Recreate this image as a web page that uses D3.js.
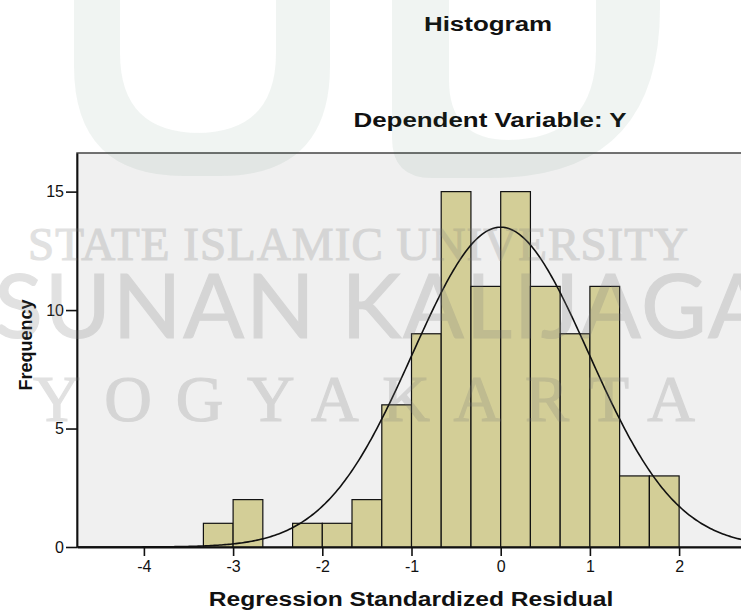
<!DOCTYPE html>
<html>
<head>
<meta charset="utf-8">
<script src="https://cdnjs.cloudflare.com/ajax/libs/d3/7.8.5/d3.min.js"></script>
<style>
  body { margin: 0; background: #fff; }
  svg { display: block; }
</style>
</head>
<body>
<div id="vis"></div>
<script>
// Chart data
const BIN_LEFT = [-3.333, -3, -2.667, -2.333, -2, -1.667, -1.333, -1, -0.667, -0.333, 0, 0.333, 0.667, 1, 1.333, 1.667];
const COUNTS = [1, 2, 0, 1, 1, 2, 6, 9, 15, 11, 15, 11, 9, 11, 3, 3];
const BIN_WIDTH = 0.3333;
const X_TICKS = [-4, -3, -2, -1, 0, 1, 2];
const Y_TICKS = [0, 5, 10, 15];
// normal curve stats (SPSS draws N * binwidth * pdf)
const MEAN = 0;
const STD_DEV = 0.985;
const N = 100;

const WIDTH = 741, HEIGHT = 612;
const PLOT = {left: 77, top: 153, right: 746, bottom: 547};
const FONT = "'Liberation Sans', Arial, sans-serif";

const svg = d3.select("#vis").append("svg")
  .attr("width", WIDTH)
  .attr("height", HEIGHT);

const X_SCALE = d3.scaleLinear().domain([-4.75, 2.75]).range([PLOT.left, PLOT.right]);
const Y_SCALE = d3.scaleLinear().domain([0, 16.63]).range([PLOT.bottom, PLOT.top]);

// plot background + frame
svg.append("rect")
  .attr("x", PLOT.left)
  .attr("y", PLOT.top)
  .attr("width", PLOT.right - PLOT.left)
  .attr("height", PLOT.bottom - PLOT.top)
  .attr("fill", "#f0f0f0")
  .attr("stroke", "#444")
  .attr("stroke-width", 1.5);

// bars
const bins = BIN_LEFT.map((x0, i) => ({x0: x0, x1: x0 + BIN_WIDTH, n: COUNTS[i]}))
  .filter(d => d.n > 0);

svg.selectAll(".bar")
  .data(bins)
  .enter()
  .append("rect")
  .attr("class", "bar")
  .attr("x", d => X_SCALE(d.x0))
  .attr("y", d => Y_SCALE(d.n))
  .attr("width", d => X_SCALE(d.x1) - X_SCALE(d.x0))
  .attr("height", d => Y_SCALE(0) - Y_SCALE(d.n))
  .attr("fill", "#d3ce97")
  .attr("stroke", "#111")
  .attr("stroke-width", 1.2);

// normal curve
const pdf = x => Math.exp(-0.5 * Math.pow((x - MEAN) / STD_DEV, 2)) / (STD_DEV * Math.sqrt(2 * Math.PI));
const curvePts = d3.range(-4.75, 2.76, 0.02).map(x => [x, N * BIN_WIDTH * pdf(x)]);

svg.append("defs").append("clipPath").attr("id", "clip")
  .append("rect")
  .attr("x", PLOT.left).attr("y", PLOT.top)
  .attr("width", PLOT.right - PLOT.left).attr("height", PLOT.bottom - PLOT.top);

svg.append("path")
  .datum(curvePts)
  .attr("clip-path", "url(#clip)")
  .attr("fill", "none")
  .attr("stroke", "#111")
  .attr("stroke-width", 1.6)
  .attr("d", d3.line().x(d => X_SCALE(d[0])).y(d => Y_SCALE(d[1])));

// axes (plain hyphen minus, like SPSS)
const xAxis = svg.append("g")
  .attr("transform", "translate(0," + PLOT.bottom + ")")
  .call(d3.axisBottom(X_SCALE).tickValues(X_TICKS).tickFormat(d => String(d))
    .tickSize(9).tickSizeOuter(0).tickPadding(5));

const yAxis = svg.append("g")
  .attr("transform", "translate(" + PLOT.left + ",0)")
  .call(d3.axisLeft(Y_SCALE).tickValues(Y_TICKS).tickFormat(d => String(d))
    .tickSize(11).tickSizeOuter(0).tickPadding(2));

[xAxis, yAxis].forEach(a => {
  a.selectAll("path").attr("stroke", "#111").attr("stroke-width", 1.8);
  a.selectAll("line").attr("stroke", "#111").attr("stroke-width", 1.6);
  a.selectAll("text")
    .attr("font-family", FONT)
    .attr("font-size", 16)
    .attr("fill", "#111");
});

// titles
svg.append("text")
  .attr("transform", "translate(488,31) scale(1.235,1)")
  .attr("text-anchor", "middle")
  .attr("font-family", FONT)
  .attr("font-size", 21)
  .attr("font-weight", "bold")
  .attr("fill", "#111")
  .text("Histogram");

svg.append("text")
  .attr("transform", "translate(490,127) scale(1.235,1)")
  .attr("text-anchor", "middle")
  .attr("font-family", FONT)
  .attr("font-size", 21)
  .attr("font-weight", "bold")
  .attr("fill", "#111")
  .text("Dependent Variable: Y");

svg.append("text")
  .attr("transform", "translate(411,606) scale(1.23,1)")
  .attr("text-anchor", "middle")
  .attr("font-family", FONT)
  .attr("font-size", 20)
  .attr("font-weight", "bold")
  .attr("fill", "#111")
  .text("Regression Standardized Residual");

svg.append("text")
  .attr("transform", "translate(32,345) rotate(-90)")
  .attr("text-anchor", "middle")
  .attr("font-family", FONT)
  .attr("font-size", 18)
  .attr("font-weight", "bold")
  .attr("fill", "#111")
  .text("Frequency");

// watermark overlay (logo shapes + university name)
const wm = svg.append("g").attr("pointer-events", "none");

function uShape(x0, x1, bottom, rl, rr) {
  return "M" + x0 + ",-10 L" + x0 + "," + (bottom - rl) +
    " Q" + x0 + "," + bottom + " " + (x0 + rl) + "," + bottom +
    " L" + (x1 - rr) + "," + bottom +
    " Q" + x1 + "," + bottom + " " + x1 + "," + (bottom - rr) +
    " L" + x1 + ",-10 Z";
}

wm.append("path")
  .attr("d", uShape(74, 330, 176, 110, 110) + " " + uShape(120, 276, 133, 80, 80))
  .attr("fill-rule", "evenodd")
  .attr("fill", "#2f6f50")
  .attr("opacity", 0.075);

wm.append("path")
  .attr("d", uShape(392, 660, 178, 40, 170) + " " + uShape(449, 596, 140, 60, 90))
  .attr("fill-rule", "evenodd")
  .attr("fill", "#2f6f50")
  .attr("opacity", 0.075);

const WM_TEXT = [
  {t: "STATE ISLAMIC UNIVERSITY", x: 28, y: 260, size: 47, len: 660, font: "'Liberation Serif', serif", w: 400},
  {t: "SUNAN KALIJAGA", x: -6, y: 338, size: 90, len: 775, font: "Lato, sans-serif", w: 400},
  {t: "YOGYAKARTA", x: 33, y: 421, size: 66, len: 662, font: "'Liberation Serif', serif", w: 400}
];

wm.selectAll(".wm")
  .data(WM_TEXT)
  .enter()
  .append("text")
  .attr("class", "wm")
  .attr("x", d => d.x)
  .attr("y", d => d.y)
  .attr("font-family", d => d.font)
  .attr("font-size", d => d.size)
  .attr("font-weight", d => d.w)
  .attr("textLength", d => d.len)
  .attr("lengthAdjust", "spacing")
  .attr("fill", "#7a7a7a")
  .attr("stroke", "#7a7a7a")
  .attr("stroke-width", 1.2)
  .attr("opacity", 0.22)
  .text(d => d.t);
</script>
</body>
</html>
